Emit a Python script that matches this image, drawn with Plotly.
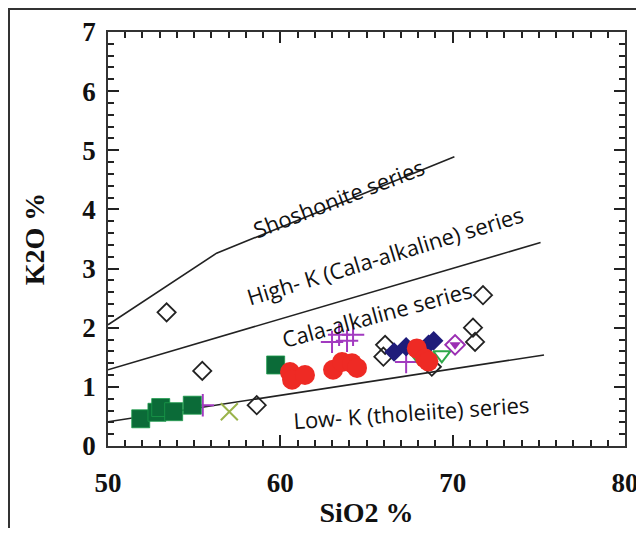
import plotly.graph_objects as go

# boundary lines (SiO2, K2O)
shosh_x = [50, 56.3, 70.1]
shosh_y = [2.05, 3.26, 4.89]
highk_x = [50, 75.1]
highk_y = [1.29, 3.44]
lowk_x = [50, 75.3]
lowk_y = [0.41, 1.54]

# samples
sq_x = [51.9, 52.84, 53.06, 53.81, 54.89, 59.73]
sq_y = [0.46, 0.57, 0.65, 0.58, 0.69, 1.37]

circ_x = [60.56, 60.68, 61.43, 63.06, 63.58, 64.16, 64.45, 67.92, 68.4, 68.59]
circ_y = [1.25, 1.12, 1.20, 1.29, 1.42, 1.40, 1.32, 1.65, 1.48, 1.43]

dia_x = [53.4, 55.47, 58.63, 66.08, 65.98, 68.79, 71.76, 71.18, 71.3]
dia_y = [2.26, 1.27, 0.69, 1.71, 1.51, 1.34, 2.55, 2.00, 1.76]

navy_x = [66.6, 67.3, 68.6, 68.9]
navy_y = [1.59, 1.68, 1.72, 1.78]

plus_x = [55.5, 63.0, 63.41, 63.87, 64.22, 67.3]
plus_y = [0.69, 1.76, 1.88, 1.78, 1.88, 1.42]

xmark_x = [57.04]
xmark_y = [0.58]

tri_x = [69.37, 68.0]
tri_y = [1.54, 1.52]

half_x = [70.14]
half_y = [1.71]

labels = ["Shoshonite series", "High- K (Cala-alkaline) series",
          "Cala-alkaline series", "Low- K (tholeiite) series"]
label_x = [63.35, 66.1, 65.6, 67.6]
label_y = [4.19, 3.23, 2.24, 0.58]
label_angle = [-21, -17, -15, -4]

x_range = [50, 80]
y_range = [0, 7]

fig = go.Figure()
for xs, ys in [(shosh_x, shosh_y), (highk_x, highk_y), (lowk_x, lowk_y)]:
    fig.add_trace(go.Scatter(x=xs, y=ys, mode="lines",
                             line=dict(color="#222", width=1.6), hoverinfo="skip"))

fig.add_trace(go.Scatter(x=dia_x, y=dia_y, mode="markers",
                         marker=dict(symbol="diamond-open", size=14, color="#222",
                                     line=dict(width=1.8))))
fig.add_trace(go.Scatter(x=plus_x, y=plus_y, mode="markers",
                         marker=dict(symbol="cross-thin-open", size=16, color="#a23ac0",
                                     line=dict(width=2))))
fig.add_trace(go.Scatter(x=sq_x, y=sq_y, mode="markers",
                         marker=dict(symbol="square", size=18, color="#0b6b38",
                                     line=dict(width=0.8, color="#1a9a4a"))))
fig.add_trace(go.Scatter(x=xmark_x, y=xmark_y, mode="markers",
                         marker=dict(symbol="x-thin-open", size=17, color="#9ab34a",
                                     line=dict(width=2))))
fig.add_trace(go.Scatter(x=navy_x, y=navy_y, mode="markers",
                         marker=dict(symbol="diamond", size=15, color="#1f1c7a")))
fig.add_trace(go.Scatter(x=tri_x, y=tri_y, mode="markers",
                         marker=dict(symbol="triangle-down-open", size=15, color="#2ea84a",
                                     line=dict(width=2))))
fig.add_trace(go.Scatter(x=circ_x, y=circ_y, mode="markers",
                         marker=dict(symbol="circle", size=20, color="#ee2a24")))
fig.add_trace(go.Scatter(x=half_x, y=half_y, mode="markers",
                         marker=dict(symbol="diamond-open", size=15, color="#9b2fb3",
                                     line=dict(width=2))))
fig.add_trace(go.Scatter(x=half_x, y=half_y, mode="markers",
                         marker=dict(symbol="triangle-down", size=10, color="#9b2fb3")))

for t, x, y, a in zip(labels, label_x, label_y, label_angle):
    fig.add_annotation(x=x, y=y, text=t, showarrow=False, textangle=a,
                       font=dict(family="Open Sans", size=22, color="#111"))

serif = "Liberation Serif"
fig.update_layout(template="none")
fig.update_layout(
    xaxis=dict(range=x_range, tickmode="linear", tick0=50, dtick=10,
               showgrid=False, zeroline=False, showline=True, linecolor="#333",
               linewidth=1.5, mirror="ticks", ticks="inside", ticklen=11,
               tickwidth=2, tickcolor="#222", ticklabelstandoff=12,
               ticklabeloverflow="allow",
               tickfont=dict(family=serif, size=27, color="#111", weight="bold"),
               minor=dict(ticks="inside", tickmode="linear", dtick=1, ticklen=6,
                          tickwidth=1.5, tickcolor="#222"),
               title=dict(text="SiO2 %", standoff=16,
                          font=dict(family=serif, size=28, color="#111", weight="bold"))),
    yaxis=dict(range=y_range, tickmode="linear", tick0=0, dtick=1,
               showgrid=False, zeroline=False, showline=True, linecolor="#333",
               linewidth=1.5, mirror="ticks", ticks="inside", ticklen=11,
               tickwidth=2, tickcolor="#222", ticklabelstandoff=5,
               tickfont=dict(family=serif, size=27, color="#111", weight="bold"),
               minor=dict(ticks="inside", tickmode="linear", dtick=0.2, ticklen=6,
                          tickwidth=1.5, tickcolor="#222"),
               title=dict(text="K2O %", standoff=30,
                          font=dict(family=serif, size=28, color="#111", weight="bold"))),
)

fig.add_shape(type="rect", xref="paper", yref="paper", x0=-0.1915, x1=1.3,
              y0=-0.4, y1=1.0556, line=dict(color="#333", width=2))

fig.update_layout(width=628, height=520, showlegend=False,
                  margin=dict(l=100, r=11, t=24, b=82),
                  paper_bgcolor="white", plot_bgcolor="white")
fig.write_html("out.html")
